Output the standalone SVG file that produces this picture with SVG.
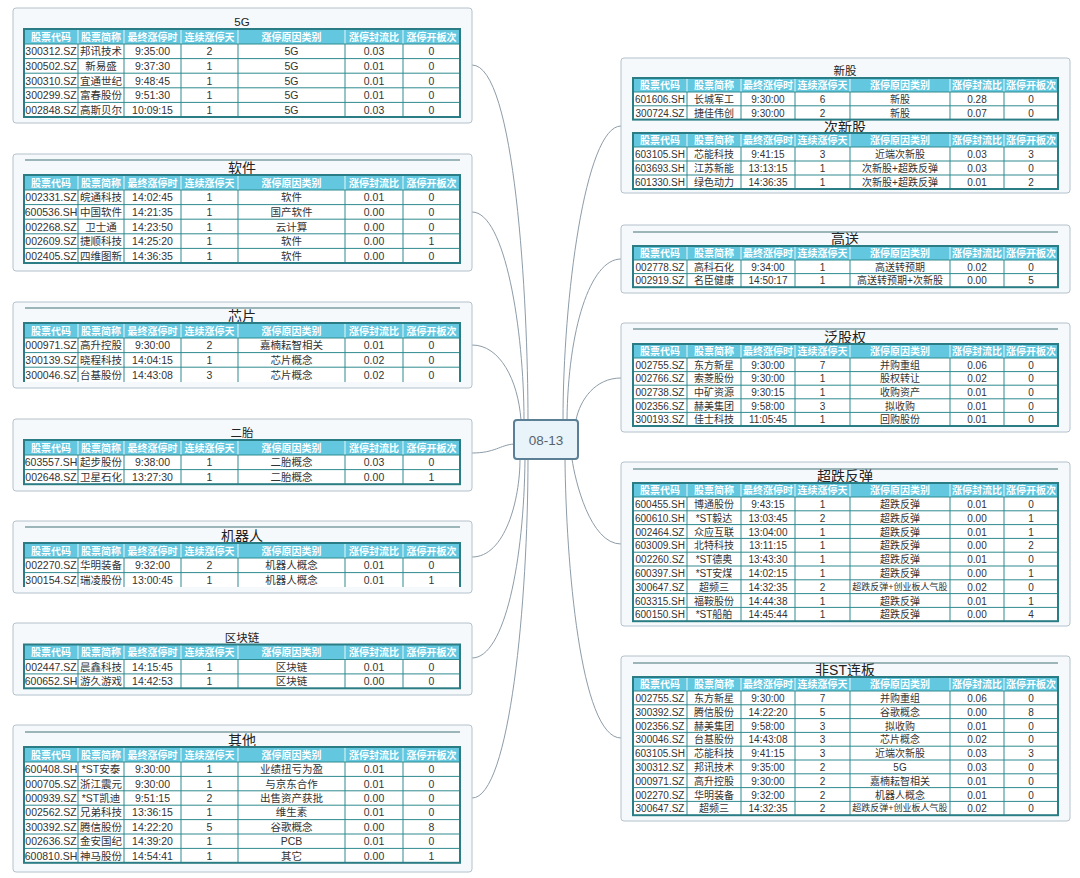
<svg xmlns="http://www.w3.org/2000/svg" width="1080" height="878" viewBox="0 0 1080 878">
<style>
text{font-family:"Liberation Sans","Noto Sans CJK SC",sans-serif}
.box{fill:#f6f9fb;stroke:#b3c2cc;stroke-width:1}
.sep{stroke:#7c9ea3;stroke-width:1.5}
.tt{text-anchor:middle;dominant-baseline:central;fill:#222;font-size:14px}
.ts{font-size:11.5px}
.hd{fill:#63c7df}
.hv{stroke:#e8f8fb;stroke-width:1;fill:none}
.bd{fill:#fff}
.g{stroke:#2f8a8f;stroke-width:1;fill:none}
.ob{stroke:#2a7d84;stroke-width:2;fill:none}
.c{text-anchor:middle;dominant-baseline:central;font-size:10.5px;fill:#333}
.r{font-size:10px}
.h{fill:#fff;font-weight:bold;font-size:10px}
.sm{font-size:9px}
.cn{fill:none;stroke:#8d9ca8;stroke-width:1}
</style>
<defs>
<g id="hL"><rect class="hd" x="24" y="0" width="436" height="15"/><path class="hv" d="M78,0v15M124,0v15M181,0v15M238,0v15M345,0v15M403,0v15"/><text class="c h" y="7.5"><tspan x="51">股票代码</tspan><tspan x="101">股票简称</tspan><tspan x="152.5">最终涨停时</tspan><tspan x="209.5">连续涨停天</tspan><tspan x="291.5">涨停原因类别</tspan><tspan x="374">涨停封流比</tspan><tspan x="431.5">涨停开板次</tspan></text></g>
<g id="hR"><rect class="hd" x="633" y="0" width="425" height="14"/><path class="hv" d="M687,0v14M741,0v14M795,0v14M850,0v14M950,0v14M1004,0v14"/><text class="c h" y="7"><tspan x="660">股票代码</tspan><tspan x="714">股票简称</tspan><tspan x="768">最终涨停时</tspan><tspan x="822.5">连续涨停天</tspan><tspan x="900">涨停原因类别</tspan><tspan x="977">涨停封流比</tspan><tspan x="1031">涨停开板次</tspan></text></g>
</defs>
<rect width="1080" height="878" fill="#fff"/>

<g id="connectors">
<path class="cn" d="M472,65C515,65 528,300 528,420"/>
<path class="cn" d="M472,212C505,212 524,330 524,420"/>
<path class="cn" d="M472,345C500,345 518,380 521,420"/>
<path class="cn" d="M472,453C495,453 500,445 514,444"/>
<path class="cn" d="M472,557C505,557 520,500 520,459"/>
<path class="cn" d="M472,658C505,658 524,560 525,459"/>
<path class="cn" d="M472,798C510,798 528,600 528,459"/>
<path class="cn" d="M621,126C585,126 563,300 563,420"/>
<path class="cn" d="M621,259C590,259 568,330 567,420"/>
<path class="cn" d="M621,378C595,378 580,400 576,420"/>
<path class="cn" d="M621,544C590,544 575,480 572,459"/>
<path class="cn" d="M621,738C580,738 566,560 565,459"/>
</g>

<g id="center">
<rect x="514" y="420" width="64" height="39" rx="3" fill="#e9f3fa" stroke="#5b8096" stroke-width="2"/>
<text x="546" y="440" text-anchor="middle" dominant-baseline="central" font-size="13.5" fill="#56636d">08-13</text>
</g>

<g id="n5g">
<rect class="box" x="13" y="8" width="459" height="115" rx="3"/>
<text class="tt ts" x="242" y="22">5G</text>
<use href="#hL" y="29"/>
<rect class="bd" x="24" y="44" width="436" height="73"/>
<path class="g" d="M24,44H460M24,58.6H460M24,73.2H460M24,87.8H460M24,102.4H460M78,44V117M124,44V117M181,44V117M238,44V117M345,44V117M403,44V117"/>
<rect class="ob" x="24" y="29" width="436" height="88"/>
<text class="c" y="51.3"><tspan x="51">300312.SZ</tspan><tspan x="101">邦讯技术</tspan><tspan x="152.5">9:35:00</tspan><tspan x="209.5">2</tspan><tspan x="291.5">5G</tspan><tspan x="374">0.03</tspan><tspan x="431.5">0</tspan></text>
<text class="c" y="65.9"><tspan x="51">300502.SZ</tspan><tspan x="101">新易盛</tspan><tspan x="152.5">9:37:30</tspan><tspan x="209.5">1</tspan><tspan x="291.5">5G</tspan><tspan x="374">0.01</tspan><tspan x="431.5">0</tspan></text>
<text class="c" y="80.5"><tspan x="51">300310.SZ</tspan><tspan x="101">宜通世纪</tspan><tspan x="152.5">9:48:45</tspan><tspan x="209.5">1</tspan><tspan x="291.5">5G</tspan><tspan x="374">0.01</tspan><tspan x="431.5">0</tspan></text>
<text class="c" y="95.1"><tspan x="51">300299.SZ</tspan><tspan x="101">富春股份</tspan><tspan x="152.5">9:51:30</tspan><tspan x="209.5">1</tspan><tspan x="291.5">5G</tspan><tspan x="374">0.01</tspan><tspan x="431.5">0</tspan></text>
<text class="c" y="109.7"><tspan x="51">002848.SZ</tspan><tspan x="101">高斯贝尔</tspan><tspan x="152.5">10:09:15</tspan><tspan x="209.5">1</tspan><tspan x="291.5">5G</tspan><tspan x="374">0.03</tspan><tspan x="431.5">0</tspan></text>
</g>

<g id="nsoft">
<rect class="box" x="13" y="154" width="459" height="117" rx="3"/>
<path class="sep" d="M25,160H460"/>
<text class="tt" x="242" y="168">软件</text>
<use href="#hL" y="175"/>
<rect class="bd" x="24" y="190" width="436" height="73"/>
<path class="g" d="M24,190H460M24,204.6H460M24,219.2H460M24,233.8H460M24,248.4H460M78,190V263M124,190V263M181,190V263M238,190V263M345,190V263M403,190V263"/>
<rect class="ob" x="24" y="175" width="436" height="88"/>
<text class="c" y="197.3"><tspan x="51">002331.SZ</tspan><tspan x="101">皖通科技</tspan><tspan x="152.5">14:02:45</tspan><tspan x="209.5">1</tspan><tspan x="291.5">软件</tspan><tspan x="374">0.01</tspan><tspan x="431.5">0</tspan></text>
<text class="c" y="211.9"><tspan x="51">600536.SH</tspan><tspan x="101">中国软件</tspan><tspan x="152.5">14:21:35</tspan><tspan x="209.5">1</tspan><tspan x="291.5">国产软件</tspan><tspan x="374">0.00</tspan><tspan x="431.5">0</tspan></text>
<text class="c" y="226.5"><tspan x="51">002268.SZ</tspan><tspan x="101">卫士通</tspan><tspan x="152.5">14:23:50</tspan><tspan x="209.5">1</tspan><tspan x="291.5">云计算</tspan><tspan x="374">0.00</tspan><tspan x="431.5">0</tspan></text>
<text class="c" y="241.1"><tspan x="51">002609.SZ</tspan><tspan x="101">捷顺科技</tspan><tspan x="152.5">14:25:20</tspan><tspan x="209.5">1</tspan><tspan x="291.5">软件</tspan><tspan x="374">0.00</tspan><tspan x="431.5">1</tspan></text>
<text class="c" y="255.7"><tspan x="51">002405.SZ</tspan><tspan x="101">四维图新</tspan><tspan x="152.5">14:36:35</tspan><tspan x="209.5">1</tspan><tspan x="291.5">软件</tspan><tspan x="374">0.00</tspan><tspan x="431.5">0</tspan></text>
</g>

<g id="nchip">
<rect class="box" x="13" y="302" width="459" height="86" rx="3"/>
<path class="sep" d="M25,308H460"/>
<text class="tt" x="242" y="316">芯片</text>
<use href="#hL" y="323"/>
<rect class="bd" x="24" y="338" width="436" height="44"/>
<path class="g" d="M24,338H460M24,352.6H460M24,367.2H460M78,338V382M124,338V382M181,338V382M238,338V382M345,338V382M403,338V382"/>
<path class="ob" d="M24,382V323H460V382"/>
<text class="c" y="345.3"><tspan x="51">000971.SZ</tspan><tspan x="101">高升控股</tspan><tspan x="152.5">9:30:00</tspan><tspan x="209.5">2</tspan><tspan x="291.5">嘉楠耘智相关</tspan><tspan x="374">0.01</tspan><tspan x="431.5">0</tspan></text>
<text class="c" y="359.9"><tspan x="51">300139.SZ</tspan><tspan x="101">晓程科技</tspan><tspan x="152.5">14:04:15</tspan><tspan x="209.5">1</tspan><tspan x="291.5">芯片概念</tspan><tspan x="374">0.02</tspan><tspan x="431.5">0</tspan></text>
<text class="c" y="374.5"><tspan x="51">300046.SZ</tspan><tspan x="101">台基股份</tspan><tspan x="152.5">14:43:08</tspan><tspan x="209.5">3</tspan><tspan x="291.5">芯片概念</tspan><tspan x="374">0.02</tspan><tspan x="431.5">0</tspan></text>
</g>

<g id="ntwo">
<rect class="box" x="13" y="419" width="459" height="72" rx="3"/>
<text class="tt ts" x="242" y="433">二胎</text>
<use href="#hL" y="440"/>
<rect class="bd" x="24" y="455" width="436" height="29.2"/>
<path class="g" d="M24,455H460M24,469.6H460M78,455V484.2M124,455V484.2M181,455V484.2M238,455V484.2M345,455V484.2M403,455V484.2"/>
<rect class="ob" x="24" y="440" width="436" height="44.2"/>
<text class="c" y="462.3"><tspan x="51">603557.SH</tspan><tspan x="101">起步股份</tspan><tspan x="152.5">9:38:00</tspan><tspan x="209.5">1</tspan><tspan x="291.5">二胎概念</tspan><tspan x="374">0.03</tspan><tspan x="431.5">0</tspan></text>
<text class="c" y="476.9"><tspan x="51">002648.SZ</tspan><tspan x="101">卫星石化</tspan><tspan x="152.5">13:27:30</tspan><tspan x="209.5">1</tspan><tspan x="291.5">二胎概念</tspan><tspan x="374">0.00</tspan><tspan x="431.5">1</tspan></text>
</g>

<g id="nrobot">
<rect class="box" x="13" y="521" width="459" height="72" rx="3"/>
<path class="sep" d="M25,527H460"/>
<text class="tt" x="242" y="536">机器人</text>
<use href="#hL" y="543"/>
<rect class="bd" x="24" y="558" width="436" height="29"/>
<path class="g" d="M24,558H460M24,572.6H460M78,558V587M124,558V587M181,558V587M238,558V587M345,558V587M403,558V587"/>
<path class="ob" d="M24,587V543H460V587"/>
<text class="c" y="565.3"><tspan x="51">002270.SZ</tspan><tspan x="101">华明装备</tspan><tspan x="152.5">9:32:00</tspan><tspan x="209.5">2</tspan><tspan x="291.5">机器人概念</tspan><tspan x="374">0.01</tspan><tspan x="431.5">0</tspan></text>
<text class="c" y="579.9"><tspan x="51">300154.SZ</tspan><tspan x="101">瑞凌股份</tspan><tspan x="152.5">13:00:45</tspan><tspan x="209.5">1</tspan><tspan x="291.5">机器人概念</tspan><tspan x="374">0.01</tspan><tspan x="431.5">1</tspan></text>
</g>

<g id="nchain">
<rect class="box" x="13" y="623" width="459" height="72" rx="3"/>
<text class="tt ts" x="242" y="638">区块链</text>
<use href="#hL" y="644.5"/>
<rect class="bd" x="24" y="659.5" width="436" height="28.8"/>
<path class="g" d="M24,659.5H460M24,673.9H460M78,659.5V688.3M124,659.5V688.3M181,659.5V688.3M238,659.5V688.3M345,659.5V688.3M403,659.5V688.3"/>
<rect class="ob" x="24" y="644.5" width="436" height="43.8"/>
<text class="c" y="666.7"><tspan x="51">002447.SZ</tspan><tspan x="101">晨鑫科技</tspan><tspan x="152.5">14:15:45</tspan><tspan x="209.5">1</tspan><tspan x="291.5">区块链</tspan><tspan x="374">0.01</tspan><tspan x="431.5">0</tspan></text>
<text class="c" y="681.1"><tspan x="51">600652.SH</tspan><tspan x="101">游久游戏</tspan><tspan x="152.5">14:42:53</tspan><tspan x="209.5">1</tspan><tspan x="291.5">区块链</tspan><tspan x="374">0.00</tspan><tspan x="431.5">0</tspan></text>
</g>

<g id="nother">
<rect class="box" x="13" y="725" width="459" height="147" rx="3"/>
<path class="sep" d="M25,732H460"/>
<text class="tt" x="242" y="740">其他</text>
<use href="#hL" y="747"/>
<rect class="bd" x="24" y="762" width="436" height="100.8"/>
<path class="g" d="M24,762H460M24,776.4H460M24,790.8H460M24,805.2H460M24,819.6H460M24,834H460M24,848.4H460M78,762V862.8M124,762V862.8M181,762V862.8M238,762V862.8M345,762V862.8M403,762V862.8"/>
<rect class="ob" x="24" y="747" width="436" height="115.8"/>
<text class="c" y="769.2"><tspan x="51">600408.SH</tspan><tspan x="101">*ST安泰</tspan><tspan x="152.5">9:30:00</tspan><tspan x="209.5">1</tspan><tspan x="291.5">业绩扭亏为盈</tspan><tspan x="374">0.01</tspan><tspan x="431.5">0</tspan></text>
<text class="c" y="783.6"><tspan x="51">000705.SZ</tspan><tspan x="101">浙江震元</tspan><tspan x="152.5">9:30:00</tspan><tspan x="209.5">1</tspan><tspan x="291.5">与京东合作</tspan><tspan x="374">0.01</tspan><tspan x="431.5">0</tspan></text>
<text class="c" y="798"><tspan x="51">000939.SZ</tspan><tspan x="101">*ST凯迪</tspan><tspan x="152.5">9:51:15</tspan><tspan x="209.5">2</tspan><tspan x="291.5">出售资产获批</tspan><tspan x="374">0.00</tspan><tspan x="431.5">0</tspan></text>
<text class="c" y="812.4"><tspan x="51">002562.SZ</tspan><tspan x="101">兄弟科技</tspan><tspan x="152.5">13:36:15</tspan><tspan x="209.5">1</tspan><tspan x="291.5">维生素</tspan><tspan x="374">0.01</tspan><tspan x="431.5">0</tspan></text>
<text class="c" y="826.8"><tspan x="51">300392.SZ</tspan><tspan x="101">腾信股份</tspan><tspan x="152.5">14:22:20</tspan><tspan x="209.5">5</tspan><tspan x="291.5">谷歌概念</tspan><tspan x="374">0.00</tspan><tspan x="431.5">8</tspan></text>
<text class="c" y="841.2"><tspan x="51">002636.SZ</tspan><tspan x="101">金安国纪</tspan><tspan x="152.5">14:39:20</tspan><tspan x="209.5">1</tspan><tspan x="291.5">PCB</tspan><tspan x="374">0.01</tspan><tspan x="431.5">0</tspan></text>
<text class="c" y="855.6"><tspan x="51">600810.SH</tspan><tspan x="101">神马股份</tspan><tspan x="152.5">14:54:41</tspan><tspan x="209.5">1</tspan><tspan x="291.5">其它</tspan><tspan x="374">0.00</tspan><tspan x="431.5">1</tspan></text>
</g>

<g id="nnew">
<rect class="box" x="621" y="58" width="449" height="135" rx="3"/>
<text class="tt ts" x="845" y="71">新股</text>
<use href="#hR" y="78"/>
<rect class="bd" x="633" y="92" width="425" height="27.6"/>
<path class="g" d="M633,92H1058M633,105.8H1058M687,92V119.6M741,92V119.6M795,92V119.6M850,92V119.6M950,92V119.6M1004,92V119.6"/>
<rect class="ob" x="633" y="78" width="425" height="41.6"/>
<text class="c r" y="98.9"><tspan x="660">601606.SH</tspan><tspan x="714">长城军工</tspan><tspan x="768">9:30:00</tspan><tspan x="822.5">6</tspan><tspan x="900">新股</tspan><tspan x="977">0.28</tspan><tspan x="1031">0</tspan></text>
<text class="c r" y="112.7"><tspan x="660">300724.SZ</tspan><tspan x="714">捷佳伟创</tspan><tspan x="768">9:30:00</tspan><tspan x="822.5">2</tspan><tspan x="900">新股</tspan><tspan x="977">0.07</tspan><tspan x="1031">0</tspan></text>
<text class="tt" x="845" y="126.5" font-size="13">次新股</text>
<use href="#hR" y="133"/>
<rect class="bd" x="633" y="147" width="425" height="42"/>
<path class="g" d="M633,147H1058M633,161H1058M633,175H1058M687,147V189M741,147V189M795,147V189M850,147V189M950,147V189M1004,147V189"/>
<rect class="ob" x="633" y="133" width="425" height="56"/>
<text class="c r" y="154"><tspan x="660">603105.SH</tspan><tspan x="714">芯能科技</tspan><tspan x="768">9:41:15</tspan><tspan x="822.5">3</tspan><tspan x="900">近端次新股</tspan><tspan x="977">0.03</tspan><tspan x="1031">3</tspan></text>
<text class="c r" y="168"><tspan x="660">603693.SH</tspan><tspan x="714">江苏新能</tspan><tspan x="768">13:13:15</tspan><tspan x="822.5">1</tspan><tspan x="900">次新股+超跌反弹</tspan><tspan x="977">0.03</tspan><tspan x="1031">0</tspan></text>
<text class="c r" y="182"><tspan x="660">601330.SH</tspan><tspan x="714">绿色动力</tspan><tspan x="768">14:36:35</tspan><tspan x="822.5">1</tspan><tspan x="900">次新股+超跌反弹</tspan><tspan x="977">0.01</tspan><tspan x="1031">2</tspan></text>
</g>

<g id="nsend">
<rect class="box" x="621" y="225" width="449" height="68" rx="3"/>
<path class="sep" d="M633,232H1058"/>
<text class="tt" x="845" y="239">高送</text>
<use href="#hR" y="246"/>
<rect class="bd" x="633" y="260" width="425" height="27.2"/>
<path class="g" d="M633,260H1058M633,273.6H1058M687,260V287.2M741,260V287.2M795,260V287.2M850,260V287.2M950,260V287.2M1004,260V287.2"/>
<rect class="ob" x="633" y="246" width="425" height="41.2"/>
<text class="c r" y="266.8"><tspan x="660">002778.SZ</tspan><tspan x="714">高科石化</tspan><tspan x="768">9:34:00</tspan><tspan x="822.5">1</tspan><tspan x="900">高送转预期</tspan><tspan x="977">0.02</tspan><tspan x="1031">0</tspan></text>
<text class="c r" y="280.4"><tspan x="660">002919.SZ</tspan><tspan x="714">名臣健康</tspan><tspan x="768">14:50:17</tspan><tspan x="822.5">1</tspan><tspan x="900">高送转预期+次新股</tspan><tspan x="977">0.00</tspan><tspan x="1031">5</tspan></text>
</g>

<g id="nequity">
<rect class="box" x="621" y="323" width="449" height="109" rx="3"/>
<path class="sep" d="M633,329H1058"/>
<text class="tt" x="845" y="337">泛股权</text>
<use href="#hR" y="344"/>
<rect class="bd" x="633" y="358" width="425" height="68"/>
<path class="g" d="M633,358H1058M633,371.6H1058M633,385.2H1058M633,398.8H1058M633,412.4H1058M687,358V426M741,358V426M795,358V426M850,358V426M950,358V426M1004,358V426"/>
<rect class="ob" x="633" y="344" width="425" height="82"/>
<text class="c r" y="364.8"><tspan x="660">002755.SZ</tspan><tspan x="714">东方新星</tspan><tspan x="768">9:30:00</tspan><tspan x="822.5">7</tspan><tspan x="900">并购重组</tspan><tspan x="977">0.06</tspan><tspan x="1031">0</tspan></text>
<text class="c r" y="378.4"><tspan x="660">002766.SZ</tspan><tspan x="714">索菱股份</tspan><tspan x="768">9:30:00</tspan><tspan x="822.5">1</tspan><tspan x="900">股权转让</tspan><tspan x="977">0.02</tspan><tspan x="1031">0</tspan></text>
<text class="c r" y="392"><tspan x="660">002738.SZ</tspan><tspan x="714">中矿资源</tspan><tspan x="768">9:30:15</tspan><tspan x="822.5">1</tspan><tspan x="900">收购资产</tspan><tspan x="977">0.01</tspan><tspan x="1031">0</tspan></text>
<text class="c r" y="405.6"><tspan x="660">002356.SZ</tspan><tspan x="714">赫美集团</tspan><tspan x="768">9:58:00</tspan><tspan x="822.5">3</tspan><tspan x="900">拟收购</tspan><tspan x="977">0.01</tspan><tspan x="1031">0</tspan></text>
<text class="c r" y="419.2"><tspan x="660">300193.SZ</tspan><tspan x="714">佳士科技</tspan><tspan x="768">11:05:45</tspan><tspan x="822.5">1</tspan><tspan x="900">回购股份</tspan><tspan x="977">0.01</tspan><tspan x="1031">0</tspan></text>
</g>

<g id="nrebound">
<rect class="box" x="621" y="462" width="449" height="164" rx="3"/>
<path class="sep" d="M633,469H1058"/>
<text class="tt" x="845" y="476">超跌反弹</text>
<use href="#hR" y="483"/>
<rect class="bd" x="633" y="497" width="425" height="124.2"/>
<path class="g" d="M633,497H1058M633,510.8H1058M633,524.6H1058M633,538.4H1058M633,552.2H1058M633,566H1058M633,579.8H1058M633,593.6H1058M633,607.4H1058M687,497V621.2M741,497V621.2M795,497V621.2M850,497V621.2M950,497V621.2M1004,497V621.2"/>
<rect class="ob" x="633" y="483" width="425" height="138.2"/>
<text class="c r" y="503.9"><tspan x="660">600455.SH</tspan><tspan x="714">博通股份</tspan><tspan x="768">9:43:15</tspan><tspan x="822.5">1</tspan><tspan x="900">超跌反弹</tspan><tspan x="977">0.01</tspan><tspan x="1031">0</tspan></text>
<text class="c r" y="517.7"><tspan x="660">600610.SH</tspan><tspan x="714">*ST毅达</tspan><tspan x="768">13:03:45</tspan><tspan x="822.5">2</tspan><tspan x="900">超跌反弹</tspan><tspan x="977">0.00</tspan><tspan x="1031">1</tspan></text>
<text class="c r" y="531.5"><tspan x="660">002464.SZ</tspan><tspan x="714">众应互联</tspan><tspan x="768">13:04:00</tspan><tspan x="822.5">1</tspan><tspan x="900">超跌反弹</tspan><tspan x="977">0.01</tspan><tspan x="1031">1</tspan></text>
<text class="c r" y="545.3"><tspan x="660">603009.SH</tspan><tspan x="714">北特科技</tspan><tspan x="768">13:11:15</tspan><tspan x="822.5">1</tspan><tspan x="900">超跌反弹</tspan><tspan x="977">0.00</tspan><tspan x="1031">2</tspan></text>
<text class="c r" y="559.1"><tspan x="660">002260.SZ</tspan><tspan x="714">*ST德奥</tspan><tspan x="768">13:43:30</tspan><tspan x="822.5">1</tspan><tspan x="900">超跌反弹</tspan><tspan x="977">0.01</tspan><tspan x="1031">0</tspan></text>
<text class="c r" y="572.9"><tspan x="660">600397.SH</tspan><tspan x="714">*ST安煤</tspan><tspan x="768">14:02:15</tspan><tspan x="822.5">1</tspan><tspan x="900">超跌反弹</tspan><tspan x="977">0.00</tspan><tspan x="1031">1</tspan></text>
<text class="c r" y="586.7"><tspan x="660">300647.SZ</tspan><tspan x="714">超频三</tspan><tspan x="768">14:32:35</tspan><tspan x="822.5">2</tspan><tspan x="977">0.02</tspan><tspan x="1031">0</tspan></text>
<text class="c sm" x="900" y="586.7">超跌反弹+创业板人气股</text>
<text class="c r" y="600.5"><tspan x="660">603315.SH</tspan><tspan x="714">福鞍股份</tspan><tspan x="768">14:44:38</tspan><tspan x="822.5">1</tspan><tspan x="900">超跌反弹</tspan><tspan x="977">0.01</tspan><tspan x="1031">1</tspan></text>
<text class="c r" y="614.3"><tspan x="660">600150.SH</tspan><tspan x="714">*ST船舶</tspan><tspan x="768">14:45:44</tspan><tspan x="822.5">1</tspan><tspan x="900">超跌反弹</tspan><tspan x="977">0.00</tspan><tspan x="1031">4</tspan></text>
</g>

<g id="nnonst">
<rect class="box" x="621" y="656" width="449" height="165" rx="3"/>
<path class="sep" d="M633,663H1058"/>
<text class="tt" x="845" y="670">非ST连板</text>
<use href="#hR" y="677"/>
<rect class="bd" x="633" y="691" width="425" height="124.2"/>
<path class="g" d="M633,691H1058M633,704.8H1058M633,718.6H1058M633,732.4H1058M633,746.2H1058M633,760H1058M633,773.8H1058M633,787.6H1058M633,801.4H1058M687,691V815.2M741,691V815.2M795,691V815.2M850,691V815.2M950,691V815.2M1004,691V815.2"/>
<rect class="ob" x="633" y="677" width="425" height="138.2"/>
<text class="c r" y="697.9"><tspan x="660">002755.SZ</tspan><tspan x="714">东方新星</tspan><tspan x="768">9:30:00</tspan><tspan x="822.5">7</tspan><tspan x="900">并购重组</tspan><tspan x="977">0.06</tspan><tspan x="1031">0</tspan></text>
<text class="c r" y="711.7"><tspan x="660">300392.SZ</tspan><tspan x="714">腾信股份</tspan><tspan x="768">14:22:20</tspan><tspan x="822.5">5</tspan><tspan x="900">谷歌概念</tspan><tspan x="977">0.00</tspan><tspan x="1031">8</tspan></text>
<text class="c r" y="725.5"><tspan x="660">002356.SZ</tspan><tspan x="714">赫美集团</tspan><tspan x="768">9:58:00</tspan><tspan x="822.5">3</tspan><tspan x="900">拟收购</tspan><tspan x="977">0.01</tspan><tspan x="1031">0</tspan></text>
<text class="c r" y="739.3"><tspan x="660">300046.SZ</tspan><tspan x="714">台基股份</tspan><tspan x="768">14:43:08</tspan><tspan x="822.5">3</tspan><tspan x="900">芯片概念</tspan><tspan x="977">0.02</tspan><tspan x="1031">0</tspan></text>
<text class="c r" y="753.1"><tspan x="660">603105.SH</tspan><tspan x="714">芯能科技</tspan><tspan x="768">9:41:15</tspan><tspan x="822.5">3</tspan><tspan x="900">近端次新股</tspan><tspan x="977">0.03</tspan><tspan x="1031">3</tspan></text>
<text class="c r" y="766.9"><tspan x="660">300312.SZ</tspan><tspan x="714">邦讯技术</tspan><tspan x="768">9:35:00</tspan><tspan x="822.5">2</tspan><tspan x="900">5G</tspan><tspan x="977">0.03</tspan><tspan x="1031">0</tspan></text>
<text class="c r" y="780.7"><tspan x="660">000971.SZ</tspan><tspan x="714">高升控股</tspan><tspan x="768">9:30:00</tspan><tspan x="822.5">2</tspan><tspan x="900">嘉楠耘智相关</tspan><tspan x="977">0.01</tspan><tspan x="1031">0</tspan></text>
<text class="c r" y="794.5"><tspan x="660">002270.SZ</tspan><tspan x="714">华明装备</tspan><tspan x="768">9:32:00</tspan><tspan x="822.5">2</tspan><tspan x="900">机器人概念</tspan><tspan x="977">0.01</tspan><tspan x="1031">0</tspan></text>
<text class="c r" y="808.3"><tspan x="660">300647.SZ</tspan><tspan x="714">超频三</tspan><tspan x="768">14:32:35</tspan><tspan x="822.5">2</tspan><tspan x="977">0.02</tspan><tspan x="1031">0</tspan></text>
<text class="c sm" x="900" y="808.3">超跌反弹+创业板人气股</text>
</g>
</svg>
